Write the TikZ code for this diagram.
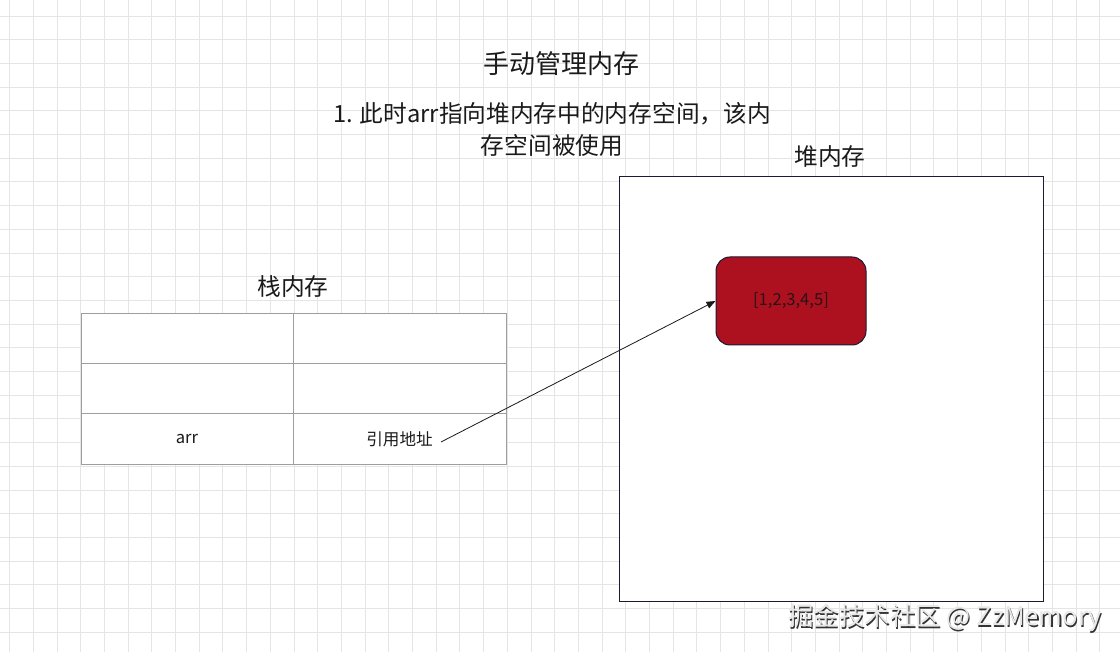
\documentclass[tikz,border=0pt]{standalone}
\usepackage{fontspec}
\setmainfont{Noto Sans CJK SC}
\usetikzlibrary{arrows.meta}
\definecolor{gridc}{HTML}{E5E5E5}
\definecolor{heapborder}{HTML}{1A1A33}
\definecolor{redfill}{HTML}{AD1120}
\definecolor{cellborder}{HTML}{9E9E9E}
\definecolor{txt}{HTML}{1A1A1A}
\definecolor{boxtxt}{HTML}{2A1214}
\tikzset{
  lbl/.style={text=txt, inner sep=0pt, font=\fontsize{23.7}{32}\selectfont},
  cell/.style={draw=cellborder, line width=1pt, minimum height=50, inner sep=0pt, text=txt, font=\fontsize{16.6}{20}\selectfont},
  gridline/.style={gridc, line width=0.8pt},
  link/.style={-{Triangle[length=9,width=7]}, line width=0.8pt, draw=txt},
}
\begin{document}
\begin{tikzpicture}[x=1pt,y=-1pt]
\useasboundingbox (0,0) rectangle (1120,652);
\fill[white] (0,0) rectangle (1120,652);
\foreach \i in {0,...,46} \draw[gridline] ({9.5+\i*23.7},0) -- ({9.5+\i*23.7},652);
\foreach \j in {0,...,26} \draw[gridline] (0,{16+\j*23.7}) -- (1120,{16+\j*23.7});

\node[lbl, font=\fontsize{26}{30}\selectfont] (title) at (561,64) {手动管理内存};
\node[lbl, align=center] (desc) at (552,129) {1. 此时arr指向堆内存中的内存空间，该内\\存空间被使用};

\node[lbl] (heaplbl) at (830,157) {堆内存};
\node[draw=heapborder, fill=white, line width=1pt, minimum width=424, minimum height=424, inner sep=0pt] (heap) at (831,389) {};
\node[draw=heapborder, fill=redfill, line width=1pt, rounded corners=14, minimum width=150, minimum height=88, inner sep=0pt, text=boxtxt, font=\fontsize{16.6}{20}\selectfont] (arrv) at (791,301) {[1,2,3,4,5]};

\node[lbl] (stacklbl) at (293,287) {栈内存};
\node[cell, minimum width=212, fill=white] (c11) at (187,339) {};
\node[cell, minimum width=213, fill=white] (c12) at (399.5,339) {};
\node[cell, minimum width=212, fill=white] (c21) at (187,389) {};
\node[cell, minimum width=213, fill=white] (c22) at (399.5,389) {};
\node[cell, minimum width=212, fill=white] (c31) at (187,439) {arr};
\node[cell, minimum width=213, fill=white] (c32) at (399.5,439) {引用地址};

\coordinate (src) at (441,442);
\draw[link] (src) -- (arrv.west);

\node[inner sep=0pt, text=gray!40!black, font=\fontsize{25.5}{28}\selectfont] (wmshadow) at (946.2,619.2) {掘金技术社区 @ ZzMemory};
\node[inner sep=0pt, text=white!82!gray, font=\fontsize{25.5}{28}\selectfont] (wm) at (945,618) {掘金技术社区 @ ZzMemory};
\end{tikzpicture}
\end{document}
